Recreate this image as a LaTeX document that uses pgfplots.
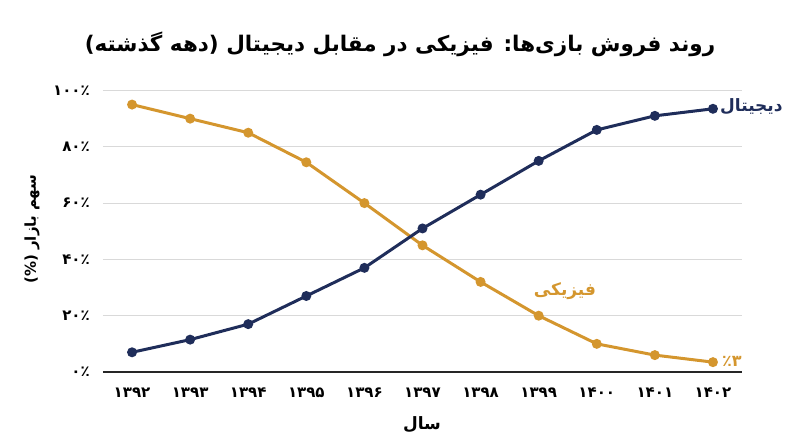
\documentclass[border=0pt]{standalone}
\usepackage{pgfplots}
\pgfplotsset{compat=1.18}
\usepackage{fontspec}
\setmainfont{DejaVu Sans}
\newfontfamily\fa[Script=Arabic]{DejaVu Sans}
\TeXXeTstate=1
\definecolor{navy}{HTML}{1F2D5A}
\definecolor{gold}{HTML}{D4962E}

\begin{document}
\begin{tikzpicture}
\useasboundingbox (-103bp,-75bp) rectangle (697bp,372bp);
\begin{axis}[
    at={(0,0)}, anchor=south west,
    scale only axis,
    width=639bp, height=281.5bp,
    xmin=1391.5, xmax=1402.5,
    ymin=0, ymax=100,
    xtick={1392,1393,1394,1395,1396,1397,1398,1399,1400,1401,1402},
    xticklabels={۱۳۹۲,۱۳۹۳,۱۳۹۴,۱۳۹۵,۱۳۹۶,۱۳۹۷,۱۳۹۸,۱۳۹۹,۱۴۰۰,۱۴۰۱,۱۴۰۲},
    ytick={0,20,40,60,80,100},
    yticklabels={۰٪,۲۰٪,۴۰٪,۶۰٪,۸۰٪,۱۰۰٪},
    ymajorgrids,
    grid style={black!15, line width=0.8bp},
    axis line style={draw=none},
    major tick length=0pt,
    tick label style={font=\fa\bfseries\fontsize{15bp}{17bp}\selectfont, inner sep=0pt},
    xticklabel style={anchor=center, yshift=-20.5bp},
    yticklabel style={anchor=east, xshift=-13bp},
    clip=false,
  ]
  \draw[line width=1.3bp, black!85] (rel axis cs:0,0) -- (rel axis cs:1,0);

  % fiziki (physical)
  \addplot[gold, line width=3bp, mark=*, mark size=3.4bp]
  coordinates {
      (1392,95)(1393,90)(1394,85)(1395,74.5)(1396,60)(1397,45)
      (1398,32)(1399,20)(1400,10)(1401,6)(1402,3.5)
    };

  % dijital (digital)
  \addplot[navy, line width=3bp, mark=*, mark size=3.4bp]
  coordinates {
      (1392,7)(1393,11.5)(1394,17)(1395,27)(1396,37)(1397,51)
      (1398,63)(1399,75)(1400,86)(1401,91)(1402,93.5)
    };
\end{axis}

\node[font=\fa\bfseries\fontsize{21.5bp}{26bp}\selectfont] at (297bp,328bp)
  {\beginR روند فروش بازی‌ها: فیزیکی در مقابل دیجیتال (دهه گذشته)\endR};
\node[font=\fa\bfseries\fontsize{15bp}{18bp}\selectfont, rotate=90] at (-71bp,143bp)
  {\beginR سهم بازار (\%)\endR};
\node[font=\fa\bfseries\fontsize{17bp}{20bp}\selectfont] at (319bp,-53bp)
  {\beginR سال\endR};
\node[font=\fa\bfseries\fontsize{17bp}{20bp}\selectfont, text=navy, anchor=west, inner sep=0pt] at (617bp,265bp)
  {\beginR دیجیتال\endR};
\node[font=\fa\bfseries\fontsize{17bp}{20bp}\selectfont, text=gold] at (462bp,81bp)
  {\beginR فیزیکی\endR};
\node[font=\fa\bfseries\fontsize{16bp}{18bp}\selectfont, text=gold, anchor=west, inner sep=0pt] at (619bp,11bp)
  {٪۳};
\end{tikzpicture}
\end{document}
